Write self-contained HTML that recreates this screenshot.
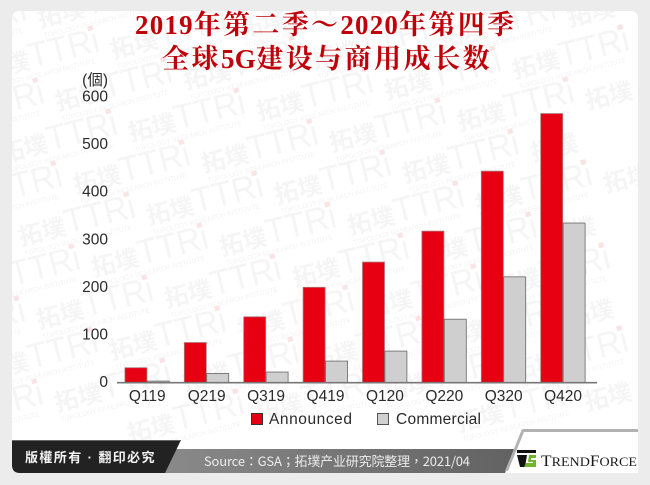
<!DOCTYPE html>
<html lang="zh">
<head>
<meta charset="utf-8">
<title>2019年第二季～2020年第四季 全球5G建设与商用成长数</title>
<style>
html,body{margin:0;padding:0;width:650px;height:485px;overflow:hidden;background:#ececec}
svg{display:block}
text{font-family:"Liberation Sans","Noto Sans CJK SC",sans-serif}
.title{font-family:"Liberation Serif","Noto Serif CJK SC",serif;font-weight:700;font-size:27px;fill:#c00008}
.tick{font-size:15.5px;fill:#2a2a2a}
.wm{fill:#f5f5f5;font-weight:700}
.wm-latin{fill:#f5f5f5;font-weight:400}
</style>
</head>
<body>
<svg id="chart" xmlns="http://www.w3.org/2000/svg" width="650" height="485" viewBox="0 0 650 485">
  <defs>
    <clipPath id="card-clip"><rect x="12" y="11" width="626" height="462" rx="7"/></clipPath>
    <linearGradient id="bar-grad" x1="0" x2="1" y1="0" y2="0">
      <stop offset="0" stop-color="#8a8a8a"/><stop offset="1" stop-color="#626262"/>
    </linearGradient>
  </defs>
  <rect width="650" height="485" fill="#ececec"/>
  <rect x="12" y="11" width="626" height="462" rx="7" fill="#ffffff"/>
  <g id="watermarks" clip-path="url(#card-clip)"></g>

  <text class="title" x="135" y="34"><tspan letter-spacing="1.2">2019</tspan><tspan letter-spacing="2.3">年第二季～</tspan><tspan letter-spacing="1.2">2020</tspan><tspan letter-spacing="2.3">年第四季</tspan></text>
  <text class="title" x="162" y="68"><tspan letter-spacing="2.5">全球</tspan><tspan letter-spacing="0.3">5G</tspan><tspan letter-spacing="2.5">建设与商用成长数</tspan></text>

  <text x="108" y="85" text-anchor="end" font-size="15.5" fill="#2a2a2a">(個)</text>
  <g id="y-axis"></g>
  <g id="bars"></g>
  <line x1="117" x2="597" y1="382.7" y2="382.7" stroke="#777" stroke-width="1.6"/>
  <g id="x-axis"></g>

  <g>
    <g>
      <rect x="251.5" y="413.5" width="11" height="11" fill="#e60012" stroke="#333"/>
      <text x="269" y="424" font-size="15.5" fill="#2a2a2a" textLength="83">Announced</text>
    </g>
    <g>
      <rect x="377.5" y="413.5" width="11" height="11" fill="#cfcfcf" stroke="#555"/>
      <text x="396" y="424" font-size="15.5" fill="#2a2a2a" textLength="85">Commercial</text>
    </g>
  </g>

  <g>
    <polygon points="160,449 515,449 505,473 160,473" fill="url(#bar-grad)"/>
    <path d="M12,440 L181,440 L165,473 L20,473 Q12,473 12,465 Z" fill="#222222"/>
    <line x1="12" x2="181" y1="440.5" y2="440.5" stroke="#666"/>
    <text x="25" y="462" font-size="13" font-weight="700" fill="#f4f4f4" letter-spacing="1.4" style='font-family:"Liberation Sans","Noto Sans CJK TC",sans-serif'>版權所有 · 翻印必究</text>
    <text lang="zh-TW" x="204" y="466" font-size="13" fill="#ececec" textLength="266" style='font-family:"Noto Sans CJK TC","Liberation Sans",sans-serif'>Source：GSA；拓墣产业研究院整理，2021/04</text>
    <path d="M523,430 L638,430 L638,473 L506,473 Z" fill="#ffffff"/>
    <path d="M522,429 L638,429 L638,432 L524,432 L508,471 L505,471 Z" fill="#b2b2b2"/>
    <g>
      <rect x="517" y="450" width="19" height="3" fill="#111"/>
      <polygon points="517,455 527,455 525,467 520,467" fill="#111"/>
      <polygon points="529,455 536,455 536,458 531,458 531,460 536,460 536,467 524,467 526,463 533,463 533,462 528,462" fill="#6fb52c"/>
      <text x="541" y="466" font-size="16" fill="#1a1a1a" style='font-family:"Liberation Serif",serif' textLength="96" lengthAdjust="spacingAndGlyphs">T<tspan font-size="13">REND</tspan>F<tspan font-size="13">ORCE</tspan></text>
    </g>
  </g>
</svg>
<script>
const categories = ['Q119','Q219','Q319','Q419','Q120','Q220','Q320','Q420'];
const announced = [31, 84, 138, 200, 253, 318, 444, 565];
const commercial = [3, 19, 22, 45, 66, 133, 222, 335];
const yTickValues = [0, 100, 200, 300, 400, 500, 600];

const NS = 'http://www.w3.org/2000/svg';
function yScale(v) { return 382.5 - v * 0.476; }
function xCenter(i) { return 147.3 + i * 59.4; }

const yAxis = document.getElementById('y-axis');
yTickValues.forEach(function (v) {
  const t = document.createElementNS(NS, 'text');
  
  
  t.setAttribute('class', 'tick');
  t.setAttribute('x', 108);
  t.setAttribute('y', yScale(v) + 4.6);
  t.setAttribute('text-anchor', 'end');
  t.textContent = v;
  yAxis.appendChild(t);
});

const barsG = document.getElementById('bars');
function addBar(x, v, fill, stroke, name) {
  const r = document.createElementNS(NS, 'rect');
  
  
  r.setAttribute('x', x);
  r.setAttribute('y', yScale(v));
  r.setAttribute('width', 22);
  r.setAttribute('height', 382.5 - yScale(v));
  r.setAttribute('fill', fill);
  r.setAttribute('stroke', stroke);
  r.setAttribute('stroke-width', 0.8);
  barsG.appendChild(r);
}
const xAxis = document.getElementById('x-axis');
categories.forEach(function (c, i) {
  addBar(xCenter(i) - 22.4, announced[i], '#e60012', '#a9787c', 'bar-announced-' + c.toLowerCase());
  addBar(xCenter(i), commercial[i], '#cfcfcf', '#666666', 'bar-commercial-' + c.toLowerCase());
  const t = document.createElementNS(NS, 'text');
  
  
  t.setAttribute('class', 'tick');
  t.setAttribute('x', xCenter(i));
  t.setAttribute('y', 401);
  t.setAttribute('text-anchor', 'middle');
  t.textContent = c;
  xAxis.appendChild(t);
});

const wmLayer = document.getElementById('watermarks');
for (let m = -10; m < 16; m++) {
  for (let n = -10; n < 12; n++) {
    const px = 128 + m * 73 + n * 18;
    const py = 130 + m * 31 + n * 83;
    if (px < -110 || px > 610 || py < -10 || py > 440) continue;
    const g = document.createElementNS(NS, 'g');
    
    
    g.setAttribute('transform', 'translate(' + px + ',' + py + ') rotate(-14)');
    const a = document.createElementNS(NS, 'text');
    a.setAttribute('class', 'wm');
    a.setAttribute('font-size', 24);
    a.setAttribute('y', 12);
    a.textContent = '拓墣';
    g.appendChild(a);
    if (px <= 515) {
      const b = document.createElementNS(NS, 'text');
      b.setAttribute('class', 'wm-latin');
      b.setAttribute('font-size', 35);
      b.setAttribute('x', 48);
      b.setAttribute('y', 12);
      b.setAttribute('textLength', 72);
      b.setAttribute('lengthAdjust', 'spacingAndGlyphs');
      b.textContent = 'TTRi';
      const s = document.createElementNS(NS, 'text');
      s.setAttribute('fill', '#f3f3f3');
      s.setAttribute('font-size', 7);
      s.setAttribute('x', 2);
      s.setAttribute('y', 23);
      s.setAttribute('textLength', 110);
      s.setAttribute('lengthAdjust', 'spacingAndGlyphs');
      s.textContent = 'TOPOLOGY RESEARCH INSTITUTE';
      const d = document.createElementNS(NS, 'rect');
      d.setAttribute('fill', '#fbe3e4');
      d.setAttribute('x', 112);
      d.setAttribute('y', -15);
      d.setAttribute('width', 5);
      d.setAttribute('height', 5);
      g.appendChild(b);
      g.appendChild(s);
      g.appendChild(d);
    }
    wmLayer.appendChild(g);
  }
}
</script>
</body>
</html>
